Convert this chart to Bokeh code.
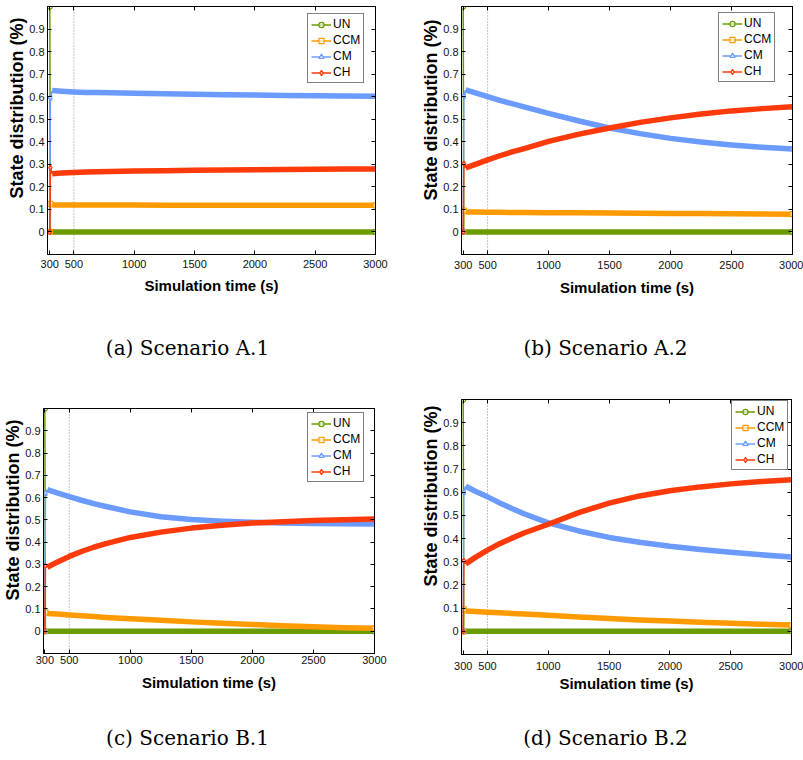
import numpy as np
from bokeh.plotting import figure
from bokeh.models import Range1d, FixedTicker, LinearAxis, Span, Legend, LegendItem, Label, Title
from bokeh.layouts import column, row
from bokeh.embed import file_html
from bokeh.resources import INLINE

# ---------------- data ----------------
time_s = [300, 305, 320, 400, 500, 600, 700, 800, 1000, 1250, 1500, 1750, 2000, 2250, 2500, 2750, 3000]

a1_un = [1.0, 0.0, 0.0, 0.0, 0.0, 0.0, 0.0, 0.0, 0.0, 0.0, 0.0, 0.0, 0.0, 0.0, 0.0, 0.0, 0.0]
a1_ccm = [0.0, 0.125, 0.120, 0.120, 0.120, 0.120, 0.120, 0.120, 0.120, 0.119, 0.119, 0.119, 0.119, 0.118, 0.118, 0.118, 0.118]
a1_cm = [0.0, 0.595, 0.627, 0.624, 0.621, 0.619, 0.618, 0.617, 0.615, 0.613, 0.611, 0.609, 0.607, 0.605, 0.604, 0.603, 0.602]
a1_ch = [0.0, 0.285, 0.258, 0.261, 0.264, 0.266, 0.267, 0.268, 0.270, 0.272, 0.274, 0.275, 0.276, 0.277, 0.278, 0.279, 0.279]

a2_un = [1.0, 0.0, 0.0, 0.0, 0.0, 0.0, 0.0, 0.0, 0.0, 0.0, 0.0, 0.0, 0.0, 0.0, 0.0, 0.0, 0.0]
a2_ccm = [0.0, 0.095, 0.088, 0.088, 0.087, 0.087, 0.086, 0.086, 0.085, 0.085, 0.084, 0.083, 0.082, 0.082, 0.081, 0.080, 0.079]
a2_cm = [0.0, 0.603, 0.630, 0.617, 0.600, 0.584, 0.569, 0.555, 0.526, 0.492, 0.461, 0.436, 0.415, 0.399, 0.386, 0.376, 0.368]
a2_ch = [0.0, 0.304, 0.284, 0.300, 0.320, 0.338, 0.355, 0.370, 0.402, 0.434, 0.461, 0.486, 0.506, 0.523, 0.537, 0.547, 0.555]

b1_un = [1.0, 0.0, 0.0, 0.0, 0.0, 0.0, 0.0, 0.0, 0.0, 0.0, 0.0, 0.0, 0.0, 0.0, 0.0, 0.0, 0.0]
b1_ccm = [0.0, 0.085, 0.080, 0.077, 0.073, 0.069, 0.066, 0.062, 0.056, 0.049, 0.042, 0.036, 0.030, 0.025, 0.020, 0.016, 0.013]
b1_cm = [0.0, 0.620, 0.636, 0.621, 0.604, 0.588, 0.573, 0.560, 0.536, 0.514, 0.502, 0.494, 0.489, 0.486, 0.484, 0.482, 0.481]
b1_ch = [0.0, 0.294, 0.287, 0.310, 0.336, 0.358, 0.377, 0.393, 0.421, 0.445, 0.463, 0.476, 0.486, 0.492, 0.497, 0.501, 0.504]

b2_un = [1.0, 0.0, 0.0, 0.0, 0.0, 0.0, 0.0, 0.0, 0.0, 0.0, 0.0, 0.0, 0.0, 0.0, 0.0, 0.0, 0.0]
b2_ccm = [0.0, 0.095, 0.088, 0.085, 0.082, 0.080, 0.077, 0.075, 0.069, 0.062, 0.055, 0.049, 0.044, 0.039, 0.035, 0.031, 0.027]
b2_cm = [0.0, 0.600, 0.626, 0.604, 0.580, 0.554, 0.530, 0.507, 0.468, 0.433, 0.405, 0.384, 0.367, 0.353, 0.341, 0.330, 0.321]
b2_ch = [0.0, 0.305, 0.291, 0.319, 0.350, 0.378, 0.402, 0.424, 0.462, 0.512, 0.553, 0.584, 0.606, 0.623, 0.636, 0.646, 0.654]

series_names = ["UN", "CCM", "CM", "CH"]
series_colors = ["#6a9c00", "#ff9a00", "#6b9bff", "#ff3a0a"]
series_markers = ["circle", "square", "triangle", "diamond"]
series_angles = [0.0, 0.0, np.pi / 2, 0.0]

x_ticks = [300, 500, 1000, 1500, 2000, 2500, 3000]
y_ticks = [0, 0.1, 0.2, 0.3, 0.4, 0.5, 0.6, 0.7, 0.8, 0.9]
y_tick_labels = ["0", "0.1", "0.2", "0.3", "0.4", "0.5", "0.6", "0.7", "0.8", "0.9"]

x_title = "Simulation time (s)"
y_title = "State distribution (%)"
captions = ["(a) Scenario A.1", "(b) Scenario A.2", "(c) Scenario B.1", "(d) Scenario B.2"]
panel_series = [
    [a1_un, a1_ccm, a1_cm, a1_ch],
    [a2_un, a2_ccm, a2_cm, a2_ch],
    [b1_un, b1_ccm, b1_cm, b1_ch],
    [b2_un, b2_ccm, b2_cm, b2_ch],
]

# ---------------- layout of each panel (pixels) ----------------
panels = [
    dict(w=400, h=310, x0=281, mbl=47, mbr=25, mbt=6, mbb=56, xts=5, xls=6, leg=(260, 171), yoff=11),
    dict(w=403, h=310, x0=286, mbl=61, mbr=11, mbt=6, mbb=52, xts=6, xls=7, leg=(257, 172), yoff=13),
    dict(w=400, h=320, x0=289, mbl=43, mbr=26, mbt=28, mbb=47, xts=2, xls=7, leg=(264, 171), yoff=11),
    dict(w=403, h=320, x0=286, mbl=61, mbr=12, mbt=19, mbb=46, xts=7, xls=2, leg=(270, 184), yoff=6),
]
caption_rows = [dict(h=70, cy=37), dict(h=60, cy=37)]
caption_cx = [187, 205]

SANS = "Liberation Sans"


def style_axis(ax, ticks, show_labels=True):
    ax.ticker = FixedTicker(ticks=ticks)
    ax.major_tick_in = 4
    ax.major_tick_out = 0
    ax.minor_tick_line_color = None
    ax.axis_line_color = "black"
    ax.axis_line_width = 1
    ax.major_tick_line_color = "black"
    ax.major_label_text_font = SANS
    ax.major_label_text_color = "#111111"
    if show_labels:
        ax.major_label_text_font_size = "11px"
    else:
        ax.major_label_text_font_size = "0px"
        ax.major_label_overrides = {t: "" for t in ticks}
        ax.major_label_standoff = 0


def make_panel(i):
    cfg = panels[i]
    p = figure(width=cfg["w"], height=cfg["h"],
               x_range=Range1d(cfg["x0"], 3000), y_range=Range1d(-0.1, 1.0),
               output_backend="svg", toolbar_location=None,
               min_border_left=cfg["mbl"], min_border_right=cfg["mbr"],
               min_border_top=cfg["mbt"], min_border_bottom=cfg["mbb"])
    p.grid.visible = False
    p.outline_line_color = "black"
    p.background_fill_color = "white"
    p.border_fill_color = "white"

    xa = p.xaxis[0]
    style_axis(xa, x_ticks)
    xa.major_label_standoff = cfg["xts"]
    xa.axis_label = x_title
    xa.axis_label_text_font = SANS
    xa.axis_label_text_font_size = "15px"
    xa.axis_label_text_font_style = "bold"
    xa.axis_label_text_color = "black"
    xa.axis_label_standoff = cfg["xls"]

    ya = p.yaxis[0]
    style_axis(ya, y_ticks)
    ya.major_label_standoff = 3
    ya.major_label_overrides = dict(zip(y_ticks, y_tick_labels))

    ra = LinearAxis()
    style_axis(ra, y_ticks, show_labels=False)
    p.add_layout(ra, "right")
    ta = LinearAxis()
    style_axis(ta, x_ticks, show_labels=False)
    p.add_layout(ta, "above")

    ytitle = Title(text=y_title, align="right", offset=cfg["yoff"], standoff=0,
                   text_font=SANS, text_font_size="18px", text_font_style="bold",
                   text_color="black")
    p.add_layout(ytitle, "left")

    span = Span(location=500, dimension="height", line_color="#8c8c8c",
                line_dash="1 2", line_width=1, level="underlay")
    p.add_layout(span)

    items = []
    mk_idx = [0, 1, len(time_s) - 1]
    for name, vals, col, mk, ang in zip(series_names, panel_series[i], series_colors,
                                        series_markers, series_angles):
        thin = p.line(time_s[:3], vals[:3], line_color=col, line_width=1.5)
        p.line(time_s[2:], vals[2:], line_color=col, line_width=5.5, line_join="round")
        sc = p.scatter([time_s[k] for k in mk_idx], [vals[k] for k in mk_idx],
                       marker=mk, angle=ang, size=5, line_color=col, line_width=1.2,
                       fill_color="white", fill_alpha=0.6)
        items.append(LegendItem(label=name, renderers=[thin, sc]))

    leg = Legend(items=items, location=cfg["leg"],
                 label_text_font=SANS, label_text_font_size="12px", label_text_color="black",
                 label_height=13, glyph_height=13, glyph_width=20, label_standoff=2,
                 spacing=2, padding=3, margin=0,
                 border_line_color="black", border_line_width=1,
                 background_fill_color="white", background_fill_alpha=1)
    p.add_layout(leg)
    return p


def make_caption(i, rowcfg):
    w = panels[i]["w"]
    c = figure(width=w, height=rowcfg["h"], x_range=Range1d(0, w), y_range=Range1d(rowcfg["h"], 0),
               x_axis_type=None, y_axis_type=None, output_backend="svg", toolbar_location=None,
               min_border=0, outline_line_color=None)
    c.grid.visible = False
    c.add_layout(Label(x=caption_cx[i % 2], y=rowcfg["cy"], text=captions[i],
                       text_align="center", text_baseline="middle",
                       text_font="DejaVu Serif", text_font_size="20px", text_color="black"))
    return c


figs = [make_panel(i) for i in range(4)]
caps = [make_caption(i, caption_rows[i // 2]) for i in range(4)]
layout = column(row(figs[0], figs[1]), row(caps[0], caps[1]),
                row(figs[2], column(figs[3])), row(caps[2], caps[3]))

open("out.html", "w").write(file_html(layout, INLINE))
